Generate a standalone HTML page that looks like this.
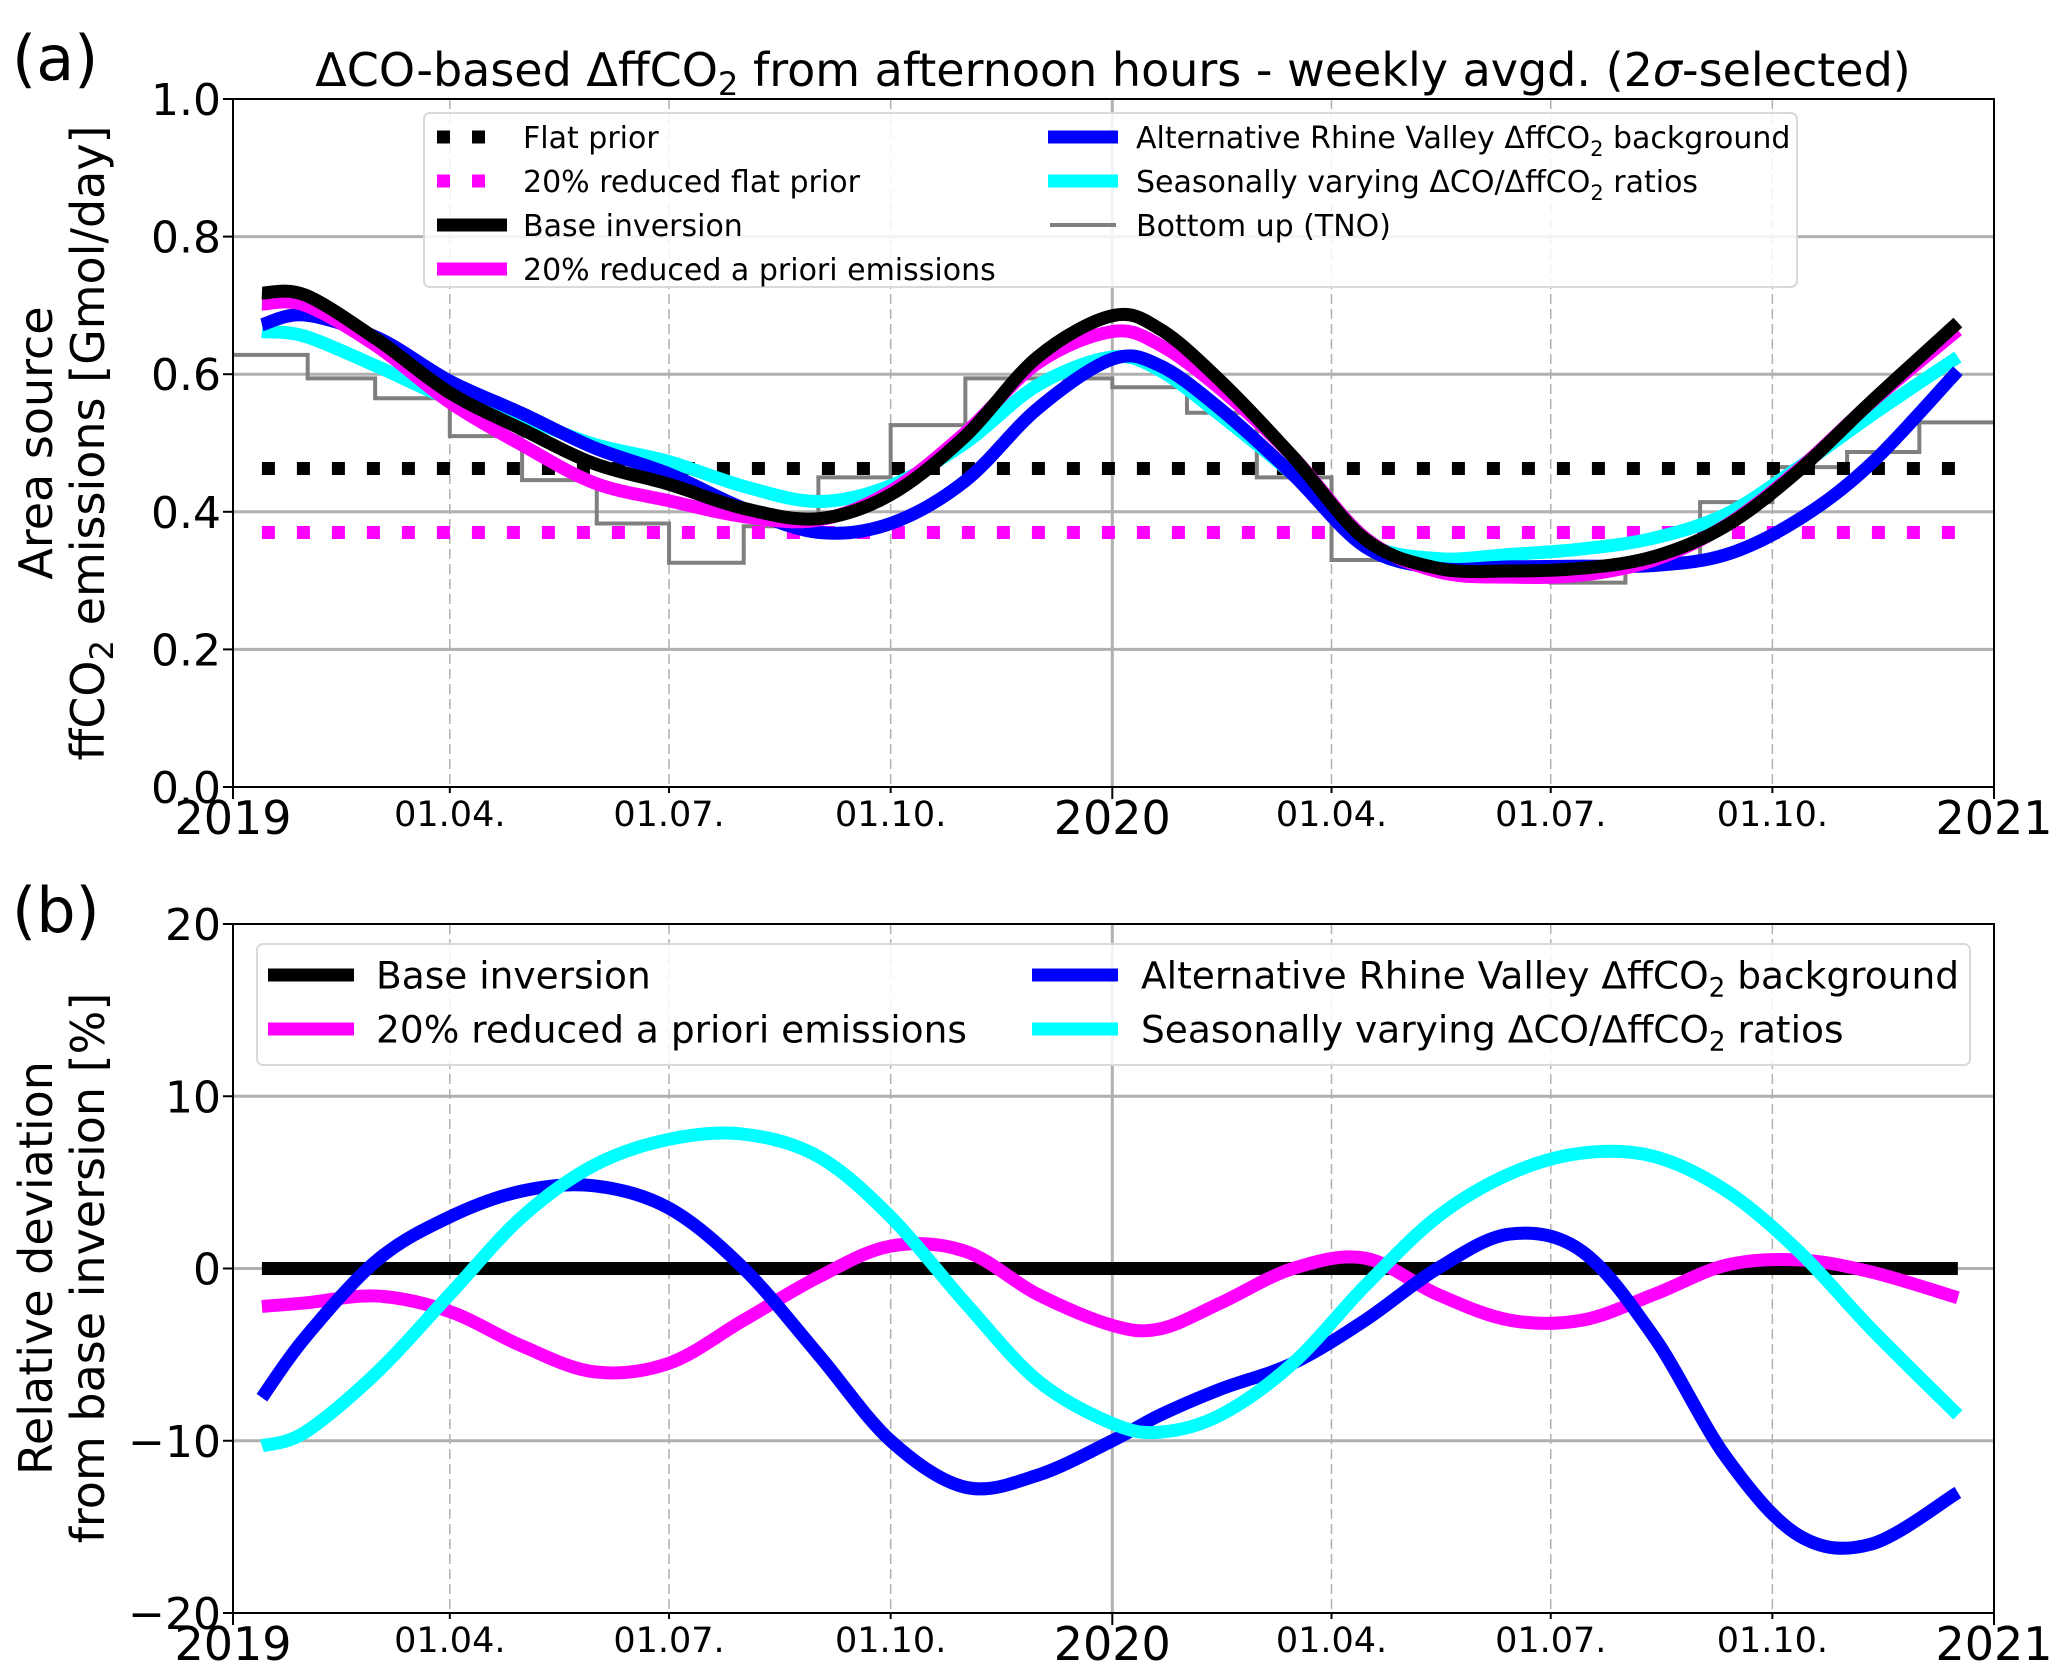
<!DOCTYPE html>
<html><head><meta charset="utf-8"><style>
html,body{margin:0;padding:0;background:#fff}
svg{display:block;font-family:"DejaVu Sans","Liberation Sans",sans-serif}
</style></head><body>
<svg id="fig" width="2067" height="1680" viewBox="0 0 2067 1680" xmlns="http://www.w3.org/2000/svg"></svg>
<script>
// ---- data ----
const days = [12,30,60,90,120,150,181,212,243,273,304,334,365,385,410,440,470,500,530,560,590,620,650,680,716];
const baseVals = [0.718,0.715,0.65,0.573,0.52,0.47,0.44,0.405,0.39,0.425,0.51,0.625,0.685,0.665,0.59,0.48,0.36,0.318,0.314,0.318,0.335,0.38,0.46,0.56,0.675];
const reducedVals = [0.702,0.70,0.64,0.559,0.497,0.442,0.416,0.393,0.388,0.43,0.515,0.616,0.662,0.642,0.578,0.48,0.362,0.313,0.305,0.308,0.33,0.381,0.462,0.559,0.664];
const blueVals = [0.672,0.686,0.653,0.59,0.543,0.493,0.455,0.405,0.37,0.383,0.445,0.55,0.622,0.612,0.549,0.454,0.349,0.318,0.32,0.321,0.322,0.338,0.389,0.47,0.605];
const cyanVals = [0.662,0.655,0.611,0.564,0.536,0.498,0.473,0.437,0.415,0.438,0.50,0.584,0.625,0.605,0.54,0.454,0.356,0.332,0.338,0.346,0.362,0.397,0.465,0.54,0.625];
const tnoMonths = [0,31,59,90,120,151,181,212,243,273,304,334,365,396,425,456,486,517,547,578,609,639,670,700,731];
const tnoVals = [0.628,0.594,0.565,0.51,0.446,0.383,0.326,0.379,0.45,0.526,0.594,0.594,0.581,0.544,0.45,0.33,0.33,0.30,0.297,0.33,0.414,0.465,0.487,0.53];
const flatPrior = 0.463, reducedFlatPrior = 0.37;
const devReduced = [-2.2,-2.0,-1.6,-2.5,-4.5,-6.0,-5.5,-3.0,-0.5,1.3,1.0,-1.5,-3.3,-3.5,-2.0,0.0,0.6,-1.5,-3.0,-3.0,-1.5,0.2,0.5,-0.2,-1.7];
const devBlue = [-7.5,-4.0,0.5,3.0,4.5,4.8,3.5,0.0,-5.0,-10.0,-12.7,-12.0,-10.0,-8.5,-7.0,-5.5,-3.0,0.0,2.0,1.0,-4.0,-11.0,-15.5,-16.0,-13.0];
const devCyan = [-10.3,-9.5,-6.0,-1.5,3.0,6.0,7.5,7.8,6.5,3.0,-2.0,-6.5,-9.0,-9.5,-8.5,-5.5,-1.0,3.0,5.5,6.7,6.5,4.5,1.0,-3.5,-8.5];
const devBase = [0,0];
const devBaseDays = [12,716];
const topTicks = [0.0,0.2,0.4,0.6,0.8,1.0];
const botTicks = [-20,-10,0,10,20];
const xTickDays = [0,90,181,273,365,456,547,639,731];
const xTickLabels = ["2019","01.04.","01.07.","01.10.","2020","01.04.","01.07.","01.10.","2021"];

const NS="http://www.w3.org/2000/svg";
const svg=document.getElementById('fig');
function el(tag,attrs,parent){const e=document.createElementNS(NS,tag);for(const k in attrs)e.setAttribute(k,attrs[k]);(parent||svg).appendChild(e);return e;}
const X0=233,X1=1994;
const xs=d=>X0+(X1-X0)*d/731;
const P1={top:99,bot:787,min:0,max:1};
const P2={top:924,bot:1613,min:-20,max:20};
const ys=(P,v)=>P.bot-(P.bot-P.top)*(v-P.min)/(P.max-P.min);
function smooth(pts){let d=`M${pts[0][0]},${pts[0][1]}`;for(let i=0;i<pts.length-1;i++){const p0=pts[i-1]||pts[i],p1=pts[i],p2=pts[i+1],p3=pts[i+2]||p2;
d+=` C${p1[0]+(p2[0]-p0[0])/6},${p1[1]+(p2[1]-p0[1])/6} ${p2[0]-(p3[0]-p1[0])/6},${p2[1]-(p3[1]-p1[1])/6} ${p2[0]},${p2[1]}`;}return d;}

function axes(P,ticks,tickFmt,name){
  const g=el('g',{});
  
  
  ticks.forEach(t=>{const y=ys(P,t);
    if(t!==P.min&&t!==P.max){const l=el('line',{x1:X0,x2:X1,y1:y,y2:y,stroke:'#b0b0b0','stroke-width':3},g);
      }
    el('line',{x1:X0-10,x2:X0,y1:y,y2:y,stroke:'#000','stroke-width':2},g);
    const tx=el('text',{x:X0-12,y:y+16,'font-size':44,'text-anchor':'end'},g);tx.textContent=tickFmt(t);
    
  });
  xTickDays.forEach((d,i)=>{const x=xs(d);const yr=xTickLabels[i].length===4;
    if(d>0&&d<731){const l=el('line',{x1:x,x2:x,y1:P.top,y2:P.bot,stroke:'#b0b0b0','stroke-width':yr?3:1.5,'stroke-dasharray':yr?'none':'10,5'},g);
      }
    el('line',{x1:x,x2:x,y1:P.bot,y2:P.bot+(yr?12:6),stroke:'#000','stroke-width':2},g);
    const tx=el('text',{x:x,y:P.bot+(yr?47:39),'font-size':yr?46:35,'text-anchor':'middle'},g);tx.textContent=xTickLabels[i];
    
  });
}
function frame(P,name){const r=el('rect',{x:X0,y:P.top,width:X1-X0,height:P.bot-P.top,fill:'none',stroke:'#000','stroke-width':2});
  }
function curve(P,dd,vals,color,w,name){const pts=dd.map((d,i)=>[xs(d),ys(P,vals[i])]);
  const p=el('path',{d:smooth(pts),fill:'none',stroke:color,'stroke-width':w,'stroke-linecap':'butt'});
  }

// ---- panel a ----
axes(P1,topTicks,t=>t.toFixed(1),'top');
{let d='';for(let i=0;i<tnoVals.length;i++){const y=ys(P1,tnoVals[i]);d+=(i?'L':'M')+xs(tnoMonths[i])+','+y+'L'+xs(tnoMonths[i+1])+','+y;}
 const p=el('path',{d:d,fill:'none',stroke:'#7f7f7f','stroke-width':4});
 }
[[flatPrior,'#000','flat-prior-line'],[reducedFlatPrior,'#ff00ff','reduced-flat-prior-line']].forEach(([v,c,n])=>{
  const l=el('line',{x1:xs(12),x2:xs(716),y1:ys(P1,v),y2:ys(P1,v),stroke:c,'stroke-width':13,'stroke-dasharray':'13,22'});
  });
curve(P1,days,cyanVals,'#00ffff',13,'seasonal-ratio-line');
curve(P1,days,blueVals,'#0000ff',13,'alt-background-line');
curve(P1,days,reducedVals,'#ff00ff',13,'reduced-prior-line');
curve(P1,days,baseVals,'#000',13,'base-inversion-line');
frame(P1,'top');

// ---- panel b ----
axes(P2,botTicks,t=>t<0?'\u2212'+Math.abs(t):String(t),'bottom');
curve(P2,devBaseDays,devBase,'#000',13,'base-deviation-line');
curve(P2,days,devReduced,'#ff00ff',13,'reduced-prior-deviation-line');
curve(P2,days,devBlue,'#0000ff',13,'alt-background-deviation-line');
curve(P2,days,devCyan,'#00ffff',13,'seasonal-ratio-deviation-line');
frame(P2,'bottom');

// ---- legends ----
function legend(box,items,fs,name){const g=el('g',{});
  
  el('rect',{x:box[0],y:box[1],width:box[2],height:box[3],rx:6,fill:'#fff','fill-opacity':0.85,stroke:'#d9d9d9','stroke-width':2},g);
  items.forEach(it=>{const [hx,hw,tx,y,color,w,dash,label]=it;
    const l=el('line',{x1:hx,x2:hx+hw,y1:y,y2:y,stroke:color,'stroke-width':w},g);if(dash)l.setAttribute('stroke-dasharray',dash);
    const t=el('text',{x:tx,y:y+fs*0.36,'font-size':fs},g);t.innerHTML=label;
    });}
const sub='<tspan dy="8" font-size="0.7em">2</tspan><tspan dy="-8"> </tspan>';
legend([424,113,1373,174],[
 [437,66,523,137,'#000',13,'13,22','Flat prior'],
 [437,66,523,181,'#ff00ff',13,'13,22','20% reduced flat prior'],
 [437,70,523,225,'#000',13,'','Base inversion'],
 [437,70,523,269,'#ff00ff',13,'','20% reduced a priori emissions'],
 [1048,70,1136,137,'#0000ff',13,'','Alternative Rhine Valley ΔffCO'+sub+'background'],
 [1048,70,1136,181,'#00ffff',13,'','Seasonally varying ΔCO/ΔffCO'+sub+'ratios'],
 [1050,66,1136,225,'#7f7f7f',4,'','Bottom up (TNO)']],30,'top-legend');
legend([257,944,1713,121],[
 [268,86,376,975,'#000',13,'','Base inversion'],
 [268,86,376,1029,'#ff00ff',13,'','20% reduced a priori emissions'],
 [1032,86,1141,975,'#0000ff',13,'','Alternative Rhine Valley ΔffCO'+sub+'background'],
 [1032,86,1141,1029,'#00ffff',13,'','Seasonally varying ΔCO/ΔffCO'+sub+'ratios']],37.5,'bottom-legend');

// ---- titles / labels ----
function text(x,y,fs,html,name,extra){const t=el('text',Object.assign({x:x,y:y,'font-size':fs},extra||{}));t.innerHTML=html;
  return t;}
text(1113,86,46,'ΔCO-based ΔffCO<tspan dy="9" font-size="0.7em">2</tspan><tspan dy="-9"> from afternoon hours - weekly avgd. (2<tspan font-style="italic">σ</tspan>-selected)</tspan>','chart-title',{'text-anchor':'middle'});
text(12,80,62,'(a)','panel-a-label');
text(12,932,62,'(b)','panel-b-label');
text(0,0,46,'Area source','y-axis-title-top-line1',{'text-anchor':'middle',transform:'translate(52,443) rotate(-90)'});
text(0,0,46,'ffCO<tspan dy="9" font-size="0.7em">2</tspan><tspan dy="-9"> emissions [Gmol/day]</tspan>','y-axis-title-top-line2',{'text-anchor':'middle',transform:'translate(104,443) rotate(-90)'});
text(0,0,46,'Relative deviation','y-axis-title-bottom-line1',{'text-anchor':'middle',transform:'translate(52,1268) rotate(-90)'});
text(0,0,46,'from base inversion [%]','y-axis-title-bottom-line2',{'text-anchor':'middle',transform:'translate(104,1268) rotate(-90)'});
</script>
</body></html>
